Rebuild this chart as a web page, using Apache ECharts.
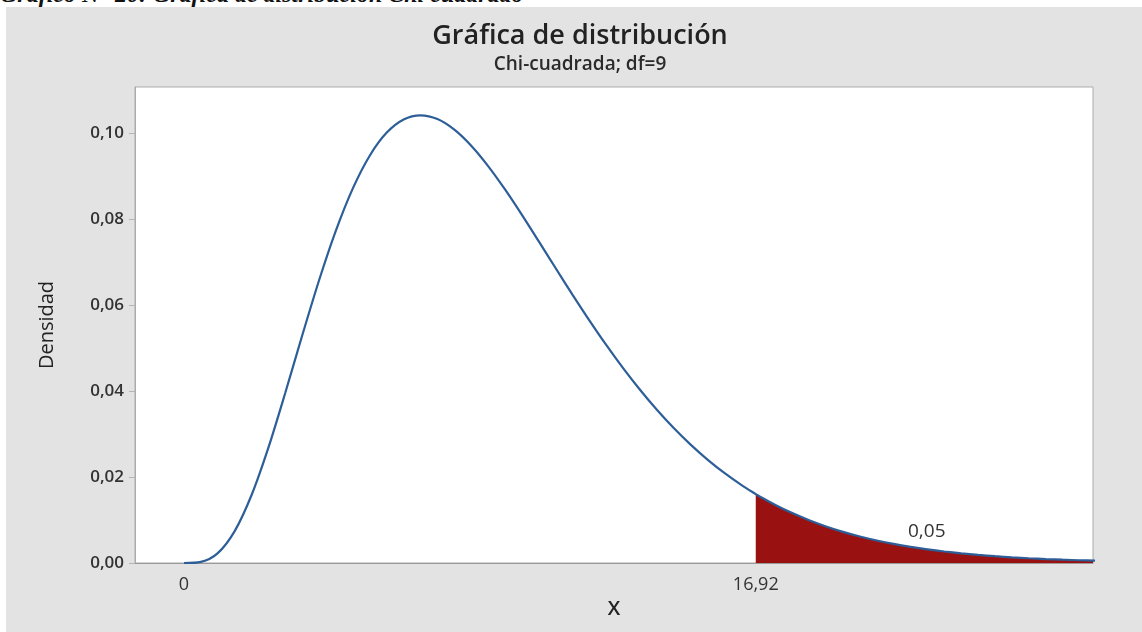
<!DOCTYPE html>
<html>
<head>
<meta charset="utf-8">
<script src="https://cdn.jsdelivr.net/npm/echarts@6/dist/echarts.min.js"></script>
<style>
html,body{margin:0;padding:0;background:#fff;width:1142px;height:632px;overflow:hidden;}
#caption{position:absolute;left:0;top:-18px;font:italic bold 24px/24px "Liberation Serif","Times New Roman",serif;color:#111;white-space:nowrap;z-index:0;}
#bg{position:absolute;left:6px;top:7px;right:0;bottom:0;background:#e3e3e3;z-index:1;}
#chart{position:absolute;left:0;top:0;width:1142px;height:632px;z-index:2;}
</style>
</head>
<body>
<div id="caption"></div>
<div id="bg"></div>
<div id="chart"></div>
<script>
// Chi-square (df = 9) density
const xValues = [0,0.5,1,1.5,2,2.5,3,3.5,4,4.5,5,5.5,6,6.5,7,7.5,8,8.5,9,9.5,10,10.5,11,11.5,12,12.5,13,13.5,14,14.5,15,15.5,16,16.5,16.92,17,17.5,18,18.5,19,19.5,20,20.5,21,21.5,22,22.5,23,23.5,24,24.5,25,25.5,26,26.5,27];
const densities = [0,0.00026,0.00230,0.00742,0.01581,0.02689,0.03965,0.05296,0.06582,0.07741,0.08718,0.09478,0.10009,0.10315,0.10412,0.10324,0.10078,0.09704,0.09231,0.08687,0.08096,0.07479,0.06855,0.06237,0.05638,0.05065,0.04525,0.04022,0.03557,0.03132,0.02747,0.02399,0.02088,0.01811,0.01603,0.01566,0.01350,0.01160,0.00995,0.00850,0.00725,0.00617,0.00524,0.00444,0.00376,0.00317,0.00267,0.00225,0.00189,0.00158,0.00132,0.00111,0.00092,0.00077,0.00064,0.00053];
const criticalValue = 16.92;
const tailArea = '0,05';
const xTickValues = [0, 16.92];
const yTicks = [0, 0.02, 0.04, 0.06, 0.08, 0.10];
const titleText = 'Gráfica de distribución';
const subtitleText = 'Chi-cuadrada; df=9';
const captionText = 'Gráfico N° 20: Gráfica de distribución Chi cuadrado';

document.getElementById('caption').textContent = captionText;

const curve = xValues.map((x, i) => [x, densities[i]]);
const tail = curve.filter(p => p[0] >= criticalValue);
const fmt = v => String(v).replace('.', ',');

const chart = echarts.init(document.getElementById('chart'), null, {renderer: 'canvas'});
const font = '"Open Sans", "Noto Sans", sans-serif';
chart.setOption({
  backgroundColor: 'transparent',
  animation: false,
  title: {
    text: titleText,
    subtext: subtitleText,
    left: 575,
    textAlign: 'center',
    top: 18,
    itemGap: 5,
    textStyle: {fontFamily: font, fontSize: 27, fontWeight: 600, color: '#222'},
    subtextStyle: {fontFamily: font, fontSize: 19, fontWeight: 600, color: '#2a2a2a'}
  },
  graphic: [{
    type: 'text', left: 908, top: 522,
    style: {text: tailArea, font: '19px ' + font, fill: '#333'}
  }],
  grid: {left: 135, right: 49, top: 87, bottom: 69, show: true, backgroundColor: '#fff', borderColor: '#ababab', borderWidth: 1},
  xAxis: {
    type: 'value', min: -1.45, max: 26.9,
    name: 'X', nameLocation: 'middle', nameGap: 36,
    nameTextStyle: {fontFamily: font, fontSize: 20, fontWeight: 600, color: '#222'},
    axisLine: {show: true, onZero: false, lineStyle: {color: '#9a9a9a'}},
    axisTick: {show: false},
    splitLine: {show: false},
    axisLabel: {customValues: xTickValues, formatter: v => fmt(v), fontFamily: font, fontSize: 18, color: '#333', margin: 13}
  },
  yAxis: {
    type: 'value', min: 0, max: 0.1107, interval: 0.02,
    name: 'Densidad', nameLocation: 'middle', nameGap: 78, nameRotate: 90,
    nameTextStyle: {fontFamily: font, fontSize: 20, fontWeight: 500, color: '#222'},
    axisLine: {show: true, onZero: false, lineStyle: {color: '#ababab'}},
    axisTick: {show: true, length: 6, lineStyle: {color: '#b5b5b5'}, customValues: yTicks},
    splitLine: {show: false},
    axisLabel: {customValues: yTicks, formatter: v => v.toFixed(2).replace('.', ','), fontFamily: font, fontSize: 17, fontWeight: 600, color: '#333', margin: 11}
  },
  series: [{
    type: 'line', data: tail, symbol: 'none', smooth: 0.3,
    lineStyle: {width: 0}, areaStyle: {color: '#9a1111', opacity: 1}, z: 2
  }, {
    type: 'line', data: curve, symbol: 'none', smooth: 0.3,
    lineStyle: {color: '#2d5e97', width: 2.2}, z: 3
  }]
});
</script>
</body>
</html>
